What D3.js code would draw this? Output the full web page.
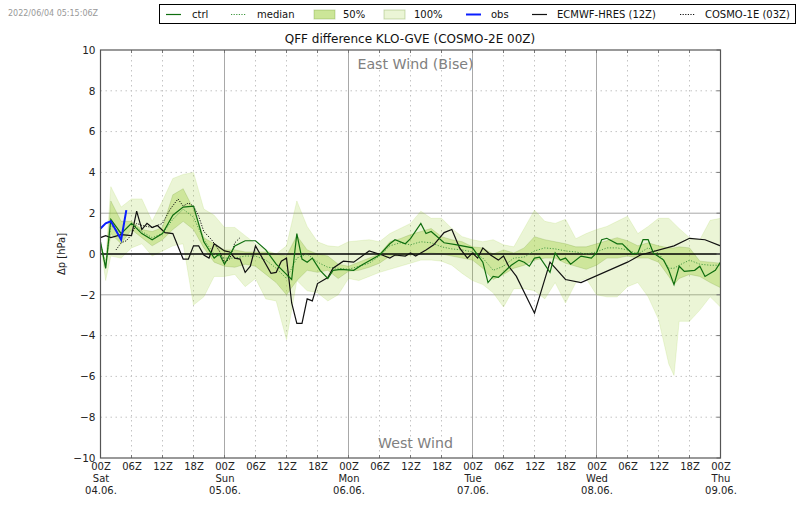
<!DOCTYPE html>
<html>
<head>
<meta charset="utf-8">
<script src="https://cdn.jsdelivr.net/npm/d3@7"></script>
<style>
body { margin: 0; background: #fff; }
svg { display: block; }
text { font-family: "DejaVu Sans", sans-serif; }
</style>
</head>
<body>
<script>
// forecast hours since 04.06. 00Z
const bandHours = [0, 1, 2, 4, 6, 8, 10, 12, 14, 16, 18, 20, 22, 24, 26, 28, 30, 32, 34, 36, 38, 40, 42, 44, 46, 48, 50, 52, 54, 56, 58, 60, 62, 64, 66, 68, 70, 72, 74, 76, 78, 80, 82, 84, 86, 88, 90, 92, 94, 96, 98, 100, 102, 104, 106, 108, 110, 111, 112, 114, 116, 118, 120];
const max100 = [0.5, -0.3, 3.3, 2.3, 2.7, 2.7, 1.6, 2.6, 3.7, 3.9, 4.0, 2.2, 1.9, 1.3, 1.3, 0.9, 0.5, 0.2, 0.0, 0.4, 2.6, 1.35, 0.6, 0.4, 0.35, 0.6, 0.65, 0.7, 0.6, 1.0, 1.25, 1.5, 2.1, 1.75, 1.75, 1.25, 0.85, 0.7, 0.6, 0.7, 0.45, 0.35, 1.25, 2.15, 1.6, 1.5, 1.7, 0.75, 1.0, 1.2, 1.35, 1.6, 1.85, 1.0, 1.35, 1.75, 1.75, 1.5, 1.25, 0.8, 0.7, 1.65, 1.75];
const min100 = [0.5, -1.3, -0.1, -0.2, 0.3, 0.5, -0.1, 0.15, 0.4, 0.5, -2.5, -2.1, -1.1, -1.1, -1.0, -1.6, -1.2, -2.2, -2.3, -4.2, -1.3, -1.8, -1.9, -2.3, -2.0, -1.2, -1.3, -1.1, -0.9, -0.75, -0.6, -0.45, -0.3, -0.3, -0.35, -0.55, -0.95, -1.3, -1.5, -1.9, -2.6, -1.7, -1.7, -1.8, -2.2, -1.4, -2.4, -1.4, -1.2, -2.0, -2.1, -2.1, -1.6, -1.4, -2.1, -3.2, -5.4, -5.95, -3.3, -3.3, -2.75, -2.1, -2.6];
const max50 = [0.5, -0.7, 2.6, 1.6, 1.6, 1.2, 1.1, 1.3, 2.9, 3.2, 2.2, 0.8, 0.5, 0.2, 0.2, 0.1, 0.1, 0.1, 0.0, -0.1, 0.9, 0.2, 0.0, -0.1, -0.5, -0.6, -0.4, -0.2, 0.0, 0.6, 0.75, 0.95, 1.1, 1.25, 0.85, 0.7, 0.6, 0.35, 0.3, 0.0, 0.2, 0.05, 0.3, 0.85, 0.7, 0.6, 0.5, 0.35, 0.35, 0.5, 0.65, 0.8, 0.65, 0.4, 0.55, 0.4, 0.3, 0.3, 0.35, 0.3, -0.35, -0.4, -0.45];
const min50 = [0.5, -0.7, 1.0, 0.5, 1.2, 0.8, 0.4, 0.7, 1.2, 1.6, 1.2, 0.3, -0.4, -0.6, -0.65, -0.5, -0.6, -1.0, -1.4, -2.0, -1.3, -0.8, -0.9, -0.8, -1.2, -0.85, -0.8, -0.65, -0.45, -0.1, -0.1, -0.05, 0.0, 0.05, 0.0, -0.1, -0.2, -0.3, -0.7, -1.25, -1.0, -0.7, -0.55, -0.3, -0.2, -0.2, -0.45, -0.6, -0.75, -0.55, -0.2, -0.2, -0.1, -0.2, -0.2, -0.4, -1.1, -1.5, -1.2, -1.0, -1.1, -1.4, -1.65];
const median = [0.5, -0.5, 1.4, 1.0, 1.5, 1.1, 0.8, 1.0, 1.7, 2.2, 1.8, 0.7, 0.0, -0.2, -0.2, -0.1, -0.1, -0.3, -0.7, -1.2, -0.2, 0.0, -0.4, -0.65, -0.7, -0.75, -0.6, -0.45, -0.1, 0.4, 0.55, 0.45, 0.6, 0.55, 0.35, 0.25, 0.2, 0.1, -0.2, -0.8, -0.6, -0.2, -0.15, 0.15, 0.3, 0.25, 0.15, 0.1, 0.0, 0.1, 0.3, 0.3, 0.2, 0.0, 0.3, 0.05, -0.7, -0.7, -0.55, -0.3, -0.5, -0.55, -0.55];

const ctrlHours = [0, 1, 2, 4, 6, 8, 10, 12, 14, 16, 18, 20, 22, 23, 24, 26, 28, 30, 32, 34, 36, 37, 38, 39, 40, 41, 42.5, 44, 45, 46.5, 49, 50.5, 54, 56, 57, 59, 60, 62, 63, 64, 66.5, 69, 72, 74, 75, 76, 77, 79.5, 81, 82, 83, 84, 85, 87, 88, 89, 90, 91, 93, 95, 96, 97, 98, 100, 101, 103, 104, 105, 106, 107, 109, 110, 111, 112, 113, 115, 116, 117, 119, 120];
const ctrl = [0.6, -0.7, 1.7, 1.0, 1.5, 1.0, 0.7, 1.0, 1.9, 2.3, 2.35, 0.6, -0.2, 0.0, -0.5, 0.4, 0.65, 0.65, 0.2, -0.5, -1.0, -1.25, 1.0, -0.25, -0.4, -0.2, -0.8, -1.2, -0.8, -0.75, -0.8, -0.55, -0.05, 0.5, 0.7, 0.5, 0.75, 1.5, 1.0, 1.1, 0.55, 0.45, 0.3, -0.4, -1.4, -1.1, -1.15, -0.55, -0.3, -0.4, -0.6, -0.2, -0.15, -0.9, 0.05, -0.3, -0.2, -0.5, -0.1, -0.2, 0.05, 0.7, 0.77, 0.5, 0.5, 0.0, 0.05, 0.7, 0.7, 0.05, -0.3, -0.8, -1.5, -0.6, -0.85, -0.8, -0.6, -1.1, -0.8, -0.4];

const hresHours = [0, 1, 2, 4, 6, 7, 8, 9, 10, 11, 12.5, 14, 16, 17, 18, 19, 20, 21, 22, 24, 25, 26, 27, 28, 29, 30, 33, 34, 35, 36, 37, 38, 39, 40, 41, 42, 44, 45, 47, 49, 52, 54.5, 56, 57, 59, 60, 61, 63, 64.5, 66.5, 68, 69.5, 71, 72, 73, 74, 75.5, 77, 78, 79, 80.5, 84, 87, 90, 93, 102, 104.5, 111, 114, 117, 120];
const hres = [0.8, 0.9, 0.8, 0.95, 0.9, 2.1, 1.2, 1.5, 1.3, 1.4, 1.05, 1.0, -0.25, -0.25, 0.4, 0.4, -0.05, -0.2, 0.5, 0.15, 0.1, -0.2, -0.25, -0.9, -0.6, 0.4, -0.95, -0.9, -0.35, -0.2, -2.4, -3.4, -3.4, -2.2, -2.3, -1.45, -1.15, -0.7, -0.35, -0.4, 0.15, -0.05, -0.2, -0.05, -0.1, 0.05, -0.1, 0.2, 0.45, 1.05, 1.2, 0.3, -0.2, 0.05, -0.2, 0.3, -0.05, -0.3, -0.1, -0.6, -1.1, -2.9, -0.4, -1.25, -1.4, -0.4, -0.05, 0.4, 0.77, 0.7, 0.4];

const cosmo1Hours = [3, 4, 5, 6, 7, 8, 10, 12, 13.5, 15, 16, 17, 18, 19, 20, 21.5, 23, 24, 25, 26, 27];
const cosmo1 = [0.2, 0.55, 0.65, 0.95, 1.5, 1.4, 1.3, 1.5, 2.2, 2.7, 2.35, 2.5, 2.35, 1.85, 1.1, 0.7, 0.15, -0.4, -0.25, 0.55, 0.8];

const obsHours = [0, 1, 2, 3, 4, 5];
const obs = [1.25, 1.5, 1.6, 1.15, 0.7, 2.15];

const yTicks = [-10, -8, -6, -4, -2, 0, 2, 4, 6, 8, 10];
const hourLabels = ["00Z", "06Z", "12Z", "18Z"];
const dayNames = ["Sat", "Sun", "Mon", "Tue", "Wed", "Thu"];
const dayDates = ["04.06.", "05.06.", "06.06.", "07.06.", "08.06.", "09.06."];

const width = 800, height = 509;
const margin = { left: 100.5, right: 79.5, top: 50, bottom: 51 };

const svg = d3.select("body").append("svg")
    .attr("width", width)
    .attr("height", height);

const x = d3.scaleLinear().domain([0, 120]).range([margin.left, width - margin.right]);
const y = d3.scaleLinear().domain([-10, 10]).range([height - margin.bottom, margin.top]);

const xTicks = d3.range(0, 121, 6);

// grid
const grid = svg.append("g");
grid.selectAll(".vgrid").data(xTicks.slice(1, -1)).enter().append("line")
    .attr("x1", d => x(d)).attr("x2", d => x(d))
    .attr("y1", y(10)).attr("y2", y(-10))
    .attr("stroke", d => d % 24 == 0 ? "#a8a8a8" : "#c4c4c4")
    .attr("stroke-width", 1)
    .attr("stroke-dasharray", d => d % 24 == 0 ? null : "1.5,3.5");
grid.selectAll(".hgrid").data(yTicks.slice(1, -1).filter(d => d != 0)).enter().append("line")
    .attr("x1", x(0)).attr("x2", x(120))
    .attr("y1", d => y(d)).attr("y2", d => y(d))
    .attr("stroke", d => Math.abs(d) == 2 ? "#a8a8a8" : "#c4c4c4")
    .attr("stroke-width", 1)
    .attr("stroke-dasharray", d => Math.abs(d) == 2 ? null : "1.5,3.5");

// ensemble bands
const band = (hi, lo) => d3.area()
    .x((d, i) => x(d))
    .y0((d, i) => y(lo[i]))
    .y1((d, i) => y(hi[i]))(bandHours);

svg.append("path")
    .attr("d", band(max100, min100))
    .attr("fill", "#9acd32").attr("fill-opacity", 0.2)
    .attr("stroke", "#9acd32").attr("stroke-opacity", 0.2).attr("stroke-width", 0.8);
svg.append("path")
    .attr("d", band(max50, min50))
    .attr("fill", "#9acd32").attr("fill-opacity", 0.36)
    .attr("stroke", "#5f8a20").attr("stroke-opacity", 0.25).attr("stroke-width", 0.8);

const curve = (hours, values) => d3.line()
    .x((d, i) => x(d))
    .y((d, i) => y(values[i]))(hours);

// zero line
svg.append("line")
    .attr("x1", x(0)).attr("x2", x(120))
    .attr("y1", y(0)).attr("y2", y(0))
    .attr("stroke", "#000").attr("stroke-width", 1.5);

const lines = svg.append("g").attr("fill", "none");
lines.append("path").attr("d", curve(bandHours, median))
    .attr("stroke", "#3d963d").attr("stroke-width", 0.9).attr("stroke-dasharray", "1.2,1.6");
lines.append("path").attr("d", curve(hresHours, hres))
    .attr("stroke", "#111").attr("stroke-width", 1.2);
lines.append("path").attr("d", curve(cosmo1Hours, cosmo1))
    .attr("stroke", "#111").attr("stroke-width", 1).attr("stroke-dasharray", "1.2,1.4");
lines.append("path").attr("d", curve(ctrlHours, ctrl))
    .attr("stroke", "#0f6e0f").attr("stroke-width", 1.2);
lines.append("path").attr("d", curve(obsHours, obs))
    .attr("stroke", "#0a1eff").attr("stroke-width", 2);

// axes
const xAxis = d3.axisBottom(x)
    .tickValues(xTicks)
    .tickSize(0)
    .tickPadding(5)
    .tickFormat(d => hourLabels[(d / 6) % 4]);
const xAxisG = svg.append("g")
    .attr("transform", `translate(0,${y(-10)})`)
    .call(xAxis);
xAxisG.select(".domain").remove();
xAxisG.selectAll("text").attr("font-size", 10).attr("fill", "#222");
xAxisG.selectAll(".tick").filter(d => d % 24 == 0).each(function (d) {
    const i = d / 24;
    d3.select(this).append("text").attr("y", 24).attr("fill", "#222")
        .attr("text-anchor", "middle").attr("font-size", 10).text(dayNames[i]);
    d3.select(this).append("text").attr("y", 36).attr("fill", "#222")
        .attr("text-anchor", "middle").attr("font-size", 10).text(dayDates[i]);
});

const yAxis = d3.axisLeft(y)
    .tickValues(yTicks)
    .tickSize(0)
    .tickPadding(5)
    .tickFormat(d => String(d).replace("-", "\u2212"));
const yAxisG = svg.append("g")
    .attr("transform", `translate(${x(0)},0)`)
    .call(yAxis);
yAxisG.select(".domain").remove();
yAxisG.selectAll("text").attr("font-size", 10.5).attr("fill", "#222");

// small tick marks on the frame
svg.selectAll(".tickTop").data(xTicks).enter().append("line")
    .attr("x1", d => x(d)).attr("x2", d => x(d))
    .attr("y1", y(10)).attr("y2", y(10) + 3).attr("stroke", "#777");
svg.selectAll(".tickBottom").data(xTicks).enter().append("line")
    .attr("x1", d => x(d)).attr("x2", d => x(d))
    .attr("y1", y(-10)).attr("y2", y(-10) - 3).attr("stroke", "#777");
svg.selectAll(".tickRight").data(yTicks).enter().append("line")
    .attr("x1", x(120)).attr("x2", x(120) - 4)
    .attr("y1", d => y(d)).attr("y2", d => y(d)).attr("stroke", "#777");

svg.append("rect")
    .attr("x", x(0)).attr("y", y(10))
    .attr("width", x(120) - x(0)).attr("height", y(-10) - y(10))
    .attr("fill", "none").attr("stroke", "#555").attr("stroke-width", 1.2);

// texts
svg.append("text").attr("x", 410).attr("y", 43)
    .attr("text-anchor", "middle").attr("font-size", 12).attr("fill", "#111")
    .text("QFF difference KLO-GVE (COSMO-2E 00Z)");
svg.append("text").attr("x", 415.5).attr("y", 69)
    .attr("text-anchor", "middle").attr("font-size", 14.2).attr("fill", "#808080")
    .text("East Wind (Bise)");
svg.append("text").attr("x", 415.5).attr("y", 448)
    .attr("text-anchor", "middle").attr("font-size", 14.2).attr("fill", "#808080")
    .text("West Wind");
svg.append("text").attr("transform", "translate(65,254) rotate(-90)")
    .attr("text-anchor", "middle").attr("font-size", 10).attr("fill", "#222")
    .text("\u0394p [hPa]");
svg.append("text").attr("x", 8).attr("y", 16)
    .attr("font-size", 8).attr("fill", "#999")
    .text("2022/06/04 05:15:06Z");

// legend
const legend = svg.append("g");
legend.append("rect")
    .attr("x", 159.5).attr("y", 4.5).attr("width", 636).attr("height", 19)
    .attr("fill", "#fff").attr("stroke", "#000").attr("stroke-width", 1);

const legendItems = [
    { label: "ctrl", kind: "line", x0: 166, tx: 192, color: "#0f6e0f", w: 1.2 },
    { label: "median", kind: "dots", x0: 231, tx: 257, color: "#3d963d", w: 1 },
    { label: "50%", kind: "patch", x0: 314, tx: 343, color: "#9acd32", o: 0.5 },
    { label: "100%", kind: "patch", x0: 384, tx: 414, color: "#9acd32", o: 0.2 },
    { label: "obs", kind: "line", x0: 466, tx: 491, color: "#0a1eff", w: 2 },
    { label: "ECMWF-HRES (12Z)", kind: "line", x0: 532, tx: 557, color: "#111", w: 1.2 },
    { label: "COSMO-1E (03Z)", kind: "dots", x0: 680, tx: 705, color: "#111", w: 1 }
];
legendItems.forEach(d => {
    if (d.kind == "patch") {
        legend.append("rect").attr("x", d.x0).attr("y", 10).attr("width", 21).attr("height", 9)
            .attr("fill", d.color).attr("fill-opacity", d.o)
            .attr("stroke", "#5f8a20").attr("stroke-opacity", 0.3);
    } else {
        legend.append("line").attr("x1", d.x0).attr("x2", d.x0 + 15)
            .attr("y1", 14.5).attr("y2", 14.5)
            .attr("stroke", d.color).attr("stroke-width", d.w)
            .attr("stroke-dasharray", d.kind == "dots" ? "1.2,1.4" : null);
    }
    legend.append("text").attr("x", d.tx).attr("y", 18)
        .attr("font-size", 10).attr("fill", "#111").text(d.label);
});
</script>
</body>
</html>
